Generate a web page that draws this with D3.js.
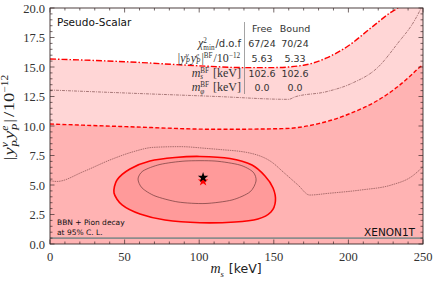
<!DOCTYPE html>
<html><head><meta charset="utf-8">
<script src="https://cdn.jsdelivr.net/npm/d3@7"></script>
<style>body{margin:0;background:#fff}svg{display:block}</style>
</head><body>
<script>
// ---- data ----
const xTicks = [0, 50, 100, 150, 200, 250];
const yTicks = [0, 2.5, 5, 7.5, 10, 12.5, 15, 17.5, 20];
// 95% C.L. upper bound (dash-dot)
const dashDot = [[0,15.68],[50,15.45],[100,15.1],[130,14.95],[150,14.95],[170,15.15],[185,15.75],[200,16.8],[215,18.3],[228,19.6],[234,20.1],[242,21.3],[250,22.8]];
// 68% C.L. (dashed)
const dashed = [[0,10.17],[50,9.95],[114,9.72],[157,9.78],[180,10.2],[202,11.1],[220,12.2],[233,13.33],[242,14.3],[248,15.0],[250,15.17]];
// thin upper contour
const thinUpper = [[0,13.05],[50,12.8],[112,12.5],[160,12.26],[164,12.46],[185,12.9],[202,13.6],[220,15.0],[233,17.0],[244.6,19.0],[248.7,20.0],[252,21]];
// thin lower contour
const thinLower = [[0,5.37],[4.5,5.3],[22.3,6.13],[40.2,7.12],[55.8,7.82],[69.2,8.19],[87.1,8.25],[105,8.1],[112.6,8.02],[134.9,7.68],[148.3,6.97],[157.3,5.99],[166.2,5.0],[174,4.15],[186.3,4.29],[208.6,4.58],[228.8,5.0],[242.2,5.7],[250,6.55]];
// XENON1T best-fit region (red solid)
const redRegion = [[42.9,4.32],[44.9,5.42],[53.6,6.36],[67,7.03],[83.8,7.33],[100.5,7.42],[120.6,7.25],[135.4,6.69],[144.1,5.76],[149.5,4.75],[151.1,3.64],[148.1,2.71],[139.4,2.12],[124,1.86],[100.5,1.80],[77.1,2.03],[60.3,2.54],[48.3,3.31]];
// inner thin contour
const innerRegion = [[59,5.51],[62.3,6.19],[73.7,6.74],[90.5,7.03],[110.6,7.03],[127.3,6.69],[136.1,6.10],[138.1,5.34],[134,4.41],[122,3.73],[103.9,3.43],[85.8,3.56],[70.4,4.07],[61.7,4.75]];
const pionLine = 0.5;
const bestFit = [{m:102.6, y:5.63, c:"#000"}, {m:102.6, y:5.33, c:"#ff0000"}];
const tableCols = ["Free", "Bound"];
const tableFree = ["67/24", "5.63", "102.6", "0.0"];
const tableBound = ["70/24", "5.33", "102.6", "0.0"];

// ---- chart ----
const W = 436, H = 283;
const L = 50, R = 423, T = 8, B = 244;
const x = d3.scaleLinear().domain([0,250]).range([L,R]);
const y = d3.scaleLinear().domain([0,20]).range([B,T]);
const svg = d3.select("body").append("svg").attr("width",W).attr("height",H);
svg.append("defs").append("clipPath").attr("id","clip")
  .append("rect").attr("x",L).attr("y",T).attr("width",R-L).attr("height",B-T);
const g = svg.append("g").attr("clip-path","url(#clip)");
g.append("rect").attr("x",L).attr("y",T).attr("width",R-L).attr("height",B-T).attr("fill","#fff");
const area = d3.area().x(d=>x(d[0])).y0(y(0)).y1(d=>y(d[1])).curve(d3.curveMonotoneX);
const line = d3.line().x(d=>x(d[0])).y(d=>y(d[1])).curve(d3.curveMonotoneX);
const closed = d3.line().x(d=>x(d[0])).y(d=>y(d[1])).curve(d3.curveCardinalClosed.tension(0.2));
g.append("path").attr("d",area(dashDot)).attr("fill","#ffd6d6");
g.append("path").attr("d",area(dashed)).attr("fill","#ffb3b3");
g.append("path").attr("d",line(thinUpper)).attr("fill","none").attr("stroke","#6e3a3a").attr("stroke-width",0.6).attr("stroke-dasharray","3,1,1,1");
g.append("path").attr("d",line(thinLower)).attr("fill","none").attr("stroke","#6e3a3a").attr("stroke-width",0.6).attr("stroke-dasharray","1.5,0.8");
g.append("path").attr("d",line(dashed)).attr("fill","none").attr("stroke","#ff0000").attr("stroke-width",1.4).attr("stroke-dasharray","4,2.2");
g.append("path").attr("d",line(dashDot)).attr("fill","none").attr("stroke","#ff0000").attr("stroke-width",1.4).attr("stroke-dasharray","6,2,1.5,2");
g.append("path").attr("d",closed(redRegion)).attr("fill","#ff9a9a").attr("stroke","#ff0000").attr("stroke-width",1.6);
g.append("path").attr("d",closed(innerRegion)).attr("fill","none").attr("stroke","#6e3a3a").attr("stroke-width",0.7);
g.append("line").attr("x1",L).attr("x2",R).attr("y1",y(pionLine)).attr("y2",y(pionLine)).attr("stroke","#8c8c8c").attr("stroke-width",1.6);
const star = d3.symbol().type(d3.symbolStar).size(34);
bestFit.slice().reverse().forEach(d=>{
  g.append("path").attr("d",star()).attr("transform",`translate(${x(d.m)},${y(d.y)})`).attr("fill",d.c);
});

// axes / frame
const frame = svg.append("g");
frame.append("rect").attr("x",L).attr("y",T).attr("width",R-L).attr("height",B-T).attr("fill","none").attr("stroke","#3a2a2a").attr("stroke-width",0.9);
const tickC = "#3a2a2a";
const xMinor = d3.range(0,251,10), yMinor = d3.range(0,20.01,0.5);
xMinor.forEach(v=>{
  const maj = xTicks.includes(v); const len = maj?4.5:2.5;
  frame.append("line").attr("x1",x(v)).attr("x2",x(v)).attr("y1",B).attr("y2",B-len).attr("stroke",tickC).attr("stroke-width",0.7);
  frame.append("line").attr("x1",x(v)).attr("x2",x(v)).attr("y1",T).attr("y2",T+len).attr("stroke",tickC).attr("stroke-width",0.7);
});
yMinor.forEach(v=>{
  const maj = yTicks.some(t=>Math.abs(t-v)<1e-6); const len = maj?4.5:2.5;
  frame.append("line").attr("x1",L).attr("x2",L+len).attr("y1",y(v)).attr("y2",y(v)).attr("stroke",tickC).attr("stroke-width",0.7);
  frame.append("line").attr("x1",R).attr("x2",R-len).attr("y1",y(v)).attr("y2",y(v)).attr("stroke",tickC).attr("stroke-width",0.7);
});
const serif = "'Liberation Serif','DejaVu Serif',serif";
const sans = "'DejaVu Sans','Open Sans',sans-serif";
xTicks.forEach(v=>{
  svg.append("text").attr("x",x(v)).attr("y",B+17).attr("text-anchor","middle").attr("font-family",serif).attr("font-size",12.5).attr("fill","#333").text(v);
});
yTicks.forEach(v=>{
  svg.append("text").attr("x",L-5).attr("y",y(v)+4.5).attr("text-anchor","end").attr("font-family",serif).attr("font-size",12.5).attr("fill","#333").text(v.toFixed(1));
});

// rich text helper: one <text>, tspans with absolute x/y; {sup,sub} stacked;
// opt.target stretches horizontally to reach a given total width
function rich(parent, px, py, anchor, base, pieces, fill, opt){
  opt = opt || {};
  const sr = opt.sr||0.62, su = opt.su||0.42, sb = opt.sb||0.3;
  const grp = parent.append("g");
  const txt = grp.append("text").attr("font-family",serif).attr("font-size",base).attr("fill",fill).attr("xml:space","preserve");
  let cx = 0;
  const mk = (s, size, dy, it, fam)=>{
    const t = txt.append("tspan").attr("x",cx).attr("y",dy).attr("font-size",size)
      .attr("font-family",fam||serif).attr("font-style",it?"italic":"normal").text(s);
    return t.node().getComputedTextLength();
  };
  pieces.forEach(p=>{
    if (p.sup!==undefined || p.sub!==undefined){
      const s = base*sr;
      let w1 = p.sup? mk(p.sup, s, -base*su, p.supIt, p.fam):0;
      let w2 = p.sub? mk(p.sub, s, base*sb, p.subIt, p.fam):0;
      cx += Math.max(w1,w2) + 0.9;
    } else {
      cx += mk(p.t, p.size||base, 0, p.it, p.fam) + (p.gap||0);
    }
  });
  let sx = 1;
  if (opt.target) sx = opt.target / cx;
  const wid = cx*sx;
  const off = anchor==="end"? -wid : anchor==="middle"? -wid/2 : 0;
  grp.attr("transform",`translate(${px+off},${py})` + (sx!==1?` scale(${sx},1)`:""));
  return grp;
}

// x label
rich(svg, 236, 273, "middle", 14, [
  {t:"m", it:true}, {sub:"s", subIt:true}, {t:"\u00a0[keV]", fam:sans, size:12.5}
], "#222");
// y label
const ylg = svg.append("g").attr("transform","translate(14,117) rotate(-90)");
rich(ylg, 0, 0, "middle", 15, [
  {t:"|", gap:1}, {t:"y", it:true}, {sup:"ν", sub:"P", supIt:true, subIt:true},
  {t:"y", it:true}, {sup:"e", sub:"P", supIt:true, subIt:true}, {t:"|", gap:1.5}, {t:"/", gap:0.5}, {t:"10"}, {sup:"−12"}
], "#222", {target:87});

// texts
svg.append("text").attr("x",57).attr("y",26).attr("font-family",sans).attr("font-size",10.5).attr("fill","#111").text("Pseudo-Scalar");
svg.append("text").attr("x",57).attr("y",225).attr("font-family",sans).attr("font-size",7.5).attr("fill","#111").text("BBN + Pion decay");
svg.append("text").attr("x",57).attr("y",235).attr("font-family",sans).attr("font-size",7.5).attr("fill","#111").text("at 95% C. L.");
svg.append("text").attr("x",415).attr("y",236).attr("text-anchor","end").attr("font-family",sans).attr("font-size",10.5).attr("fill","#111").text("XENON1T");

// table
const tc = "#333";
const rowsY = [47, 61.8, 76.6, 91.4];
svg.append("line").attr("x1",244.5).attr("x2",244.5).attr("y1",22).attr("y2",94).attr("stroke","#666").attr("stroke-width",0.6);
[262, 295].forEach((cx,i)=>{
  svg.append("text").attr("x",cx).attr("y",32).attr("text-anchor","middle").attr("font-family",sans).attr("font-size",9.5).attr("fill",tc).text(tableCols[i]);
});
tableFree.forEach((v,i)=>{
  svg.append("text").attr("x",262).attr("y",rowsY[i]).attr("text-anchor","middle").attr("font-family",sans).attr("font-size",9.5).attr("fill",tc).text(v);
  svg.append("text").attr("x",295).attr("y",rowsY[i]).attr("text-anchor","middle").attr("font-family",sans).attr("font-size",9.5).attr("fill",tc).text(tableBound[i]);
});
const topt = {sr:0.6, su:0.34, sb:0.22};
rich(svg, 241, rowsY[0], "end", 12, [
  {t:"χ", it:true}, {sup:"2", sub:"min"}, {t:"/d.o.f", fam:sans, size:10}
], tc, topt);
rich(svg, 241, rowsY[1], "end", 12, [
  {t:"|"}, {t:"y", it:true}, {sup:"ν", sub:"P", supIt:true, subIt:true},
  {t:"y", it:true}, {sup:"e", sub:"P", supIt:true, subIt:true}, {t:"|"}, {sup:"BF"}, {t:"/10"}, {sup:"−12"}
], tc, topt);
rich(svg, 241, rowsY[2], "end", 12, [
  {t:"m", it:true}, {sup:"BF", sub:"s", subIt:true}, {t:"\u00a0[keV]"}
], tc, topt);
rich(svg, 241, rowsY[3], "end", 12, [
  {t:"m", it:true}, {sup:"BF", sub:"φ", subIt:true}, {t:"\u00a0[keV]"}
], tc, topt);
</script>
</body></html>
